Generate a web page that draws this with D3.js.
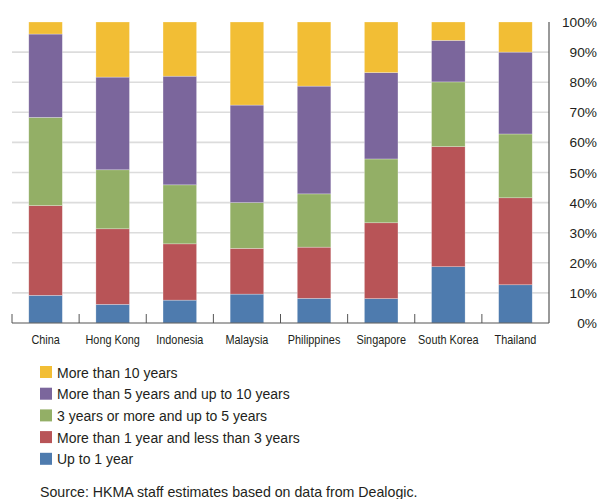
<!DOCTYPE html>
<html>
<head>
<meta charset="utf-8">
<script src="https://cdn.jsdelivr.net/npm/d3@7"></script>
<style>
  body { margin: 0; background: #fff; }
  svg text { font-family: "Liberation Sans", Arial, sans-serif; fill: #231f20; }
</style>
</head>
<body>
<div id="chart"></div>
<script>
var countries = ["China", "Hong Kong", "Indonesia", "Malaysia", "Philippines", "Singapore", "South Korea", "Thailand"];
var seriesNames = ["Up to 1 year", "More than 1 year and less than 3 years", "3 years or more and up to 5 years",
    "More than 5 years and up to 10 years", "More than 10 years"];
var upTo1 = [9.2, 6.2, 7.6, 9.6, 8.2, 8.1, 18.7, 12.7];
var oneTo3 = [29.8, 25.1, 18.7, 15.2, 17.0, 25.2, 39.9, 28.9];
var threeTo5 = [29.3, 19.6, 19.6, 15.2, 17.7, 21.2, 21.5, 21.2];
var fiveTo10 = [27.7, 30.8, 36.1, 32.4, 35.8, 28.7, 13.8, 27.2];
var over10 = [4.0, 18.3, 18.0, 27.6, 21.3, 16.8, 6.1, 10.0];
var yTicks = [0, 10, 20, 30, 40, 50, 60, 70, 80, 90, 100];
var colours = ["#4e7bae", "#b85457", "#93af66", "#7b669c", "#f2be35"];

var W = 599, H = 499;
var margin = {top: 22, right: 50, bottom: 176, left: 12};
var width = W - margin.left - margin.right;
var height = H - margin.top - margin.bottom;

var rows = countries.map(function(c, i){
    return {country: c, s0: upTo1[i], s1: oneTo3[i], s2: threeTo5[i], s3: fiveTo10[i], s4: over10[i]};
});
var keys = ["s0", "s1", "s2", "s3", "s4"];
var stacked = d3.stack().keys(keys)(rows);

var svg = d3.select("#chart").append("svg")
    .attr("width", W)
    .attr("height", H);
var g = svg.append("g")
    .attr("transform", "translate(" + margin.left + "," + margin.top + ")");

var x = d3.scaleBand().domain(countries).range([0, width]).paddingInner(0.5).paddingOuter(0.25);
var xTicks = d3.scaleBand().domain(countries).range([0, width]);
var y = d3.scaleLinear().domain([0, 100]).range([height, 0]);

// gridlines
g.append("g")
    .selectAll("line")
    .data(yTicks.filter(function(d){ return d > 0 && d < 100; }))
    .enter().append("line")
    .attr("x1", 0).attr("x2", width)
    .attr("y1", function(d){ return y(d); })
    .attr("y2", function(d){ return y(d); })
    .attr("stroke", "#dcdcdc")
    .attr("stroke-width", 1.6);

// bars
g.append("g")
    .selectAll("g")
    .data(stacked)
    .enter().append("g")
    .attr("fill", function(d, i){ return colours[i]; })
  .selectAll("rect")
    .data(function(d){ return d; })
    .enter().append("rect")
    .attr("x", function(d){ return x(d.data.country); })
    .attr("width", x.bandwidth())
    .attr("y", function(d){ return y(d[1]); })
    .attr("height", function(d){ return y(d[0]) - y(d[1]); })
    .attr("stroke", "rgba(255,255,255,0.45)")
    .attr("stroke-width", 0.6);

// x axis
var xAxis = g.append("g")
    .attr("transform", "translate(0," + height + ")");
xAxis.append("line")
    .attr("x1", 0).attr("x2", width)
    .attr("stroke", "#555").attr("stroke-width", 1.2);
xAxis.selectAll(".sep")
    .data(countries)
    .enter().append("line")
    .attr("class", "sep")
    .attr("x1", function(d){ return xTicks(d); })
    .attr("x2", function(d){ return xTicks(d); })
    .attr("y1", 0).attr("y2", -9)
    .attr("stroke", "#555").attr("stroke-width", 1);
// labels are condensed in the original, squeeze them horizontally
xAxis.selectAll("text")
    .data(countries)
    .enter().append("text")
    .attr("transform", function(d){
        return "translate(" + (x(d) + x.bandwidth() / 2) + ",20.5) scale(0.87,1)";
    })
    .attr("text-anchor", "middle")
    .attr("font-size", 12.5)
    .text(function(d){ return d; });

// y axis on the right
var yAxis = g.append("g")
    .attr("transform", "translate(" + width + ",0)");
yAxis.append("line")
    .attr("y1", 0).attr("y2", height)
    .attr("stroke", "#555").attr("stroke-width", 1.2);
yAxis.selectAll("text")
    .data(yTicks)
    .enter().append("text")
    .attr("x", 48)
    .attr("y", function(d){ return y(d) + 5; })
    .attr("text-anchor", "end")
    .attr("font-size", 13.7)
    .text(function(d){ return d + "%"; });

// legend
var legendOrder = [4, 3, 2, 1, 0];
var legend = svg.append("g")
    .attr("transform", "translate(40,366)");
var item = legend.selectAll("g")
    .data(legendOrder)
    .enter().append("g")
    .attr("transform", function(d, i){ return "translate(0," + (i * 21.7) + ")"; });
item.append("rect")
    .attr("width", 12).attr("height", 12)
    .attr("fill", function(d){ return colours[d]; });
item.append("text")
    .attr("x", 17).attr("y", 11.5)
    .attr("font-size", 14)
    .text(function(d){ return seriesNames[d]; });

svg.append("text")
    .attr("x", 40).attr("y", 497)
    .attr("font-size", 14.2)
    .text("Source: HKMA staff estimates based on data from Dealogic.");
</script>
</body>
</html>
